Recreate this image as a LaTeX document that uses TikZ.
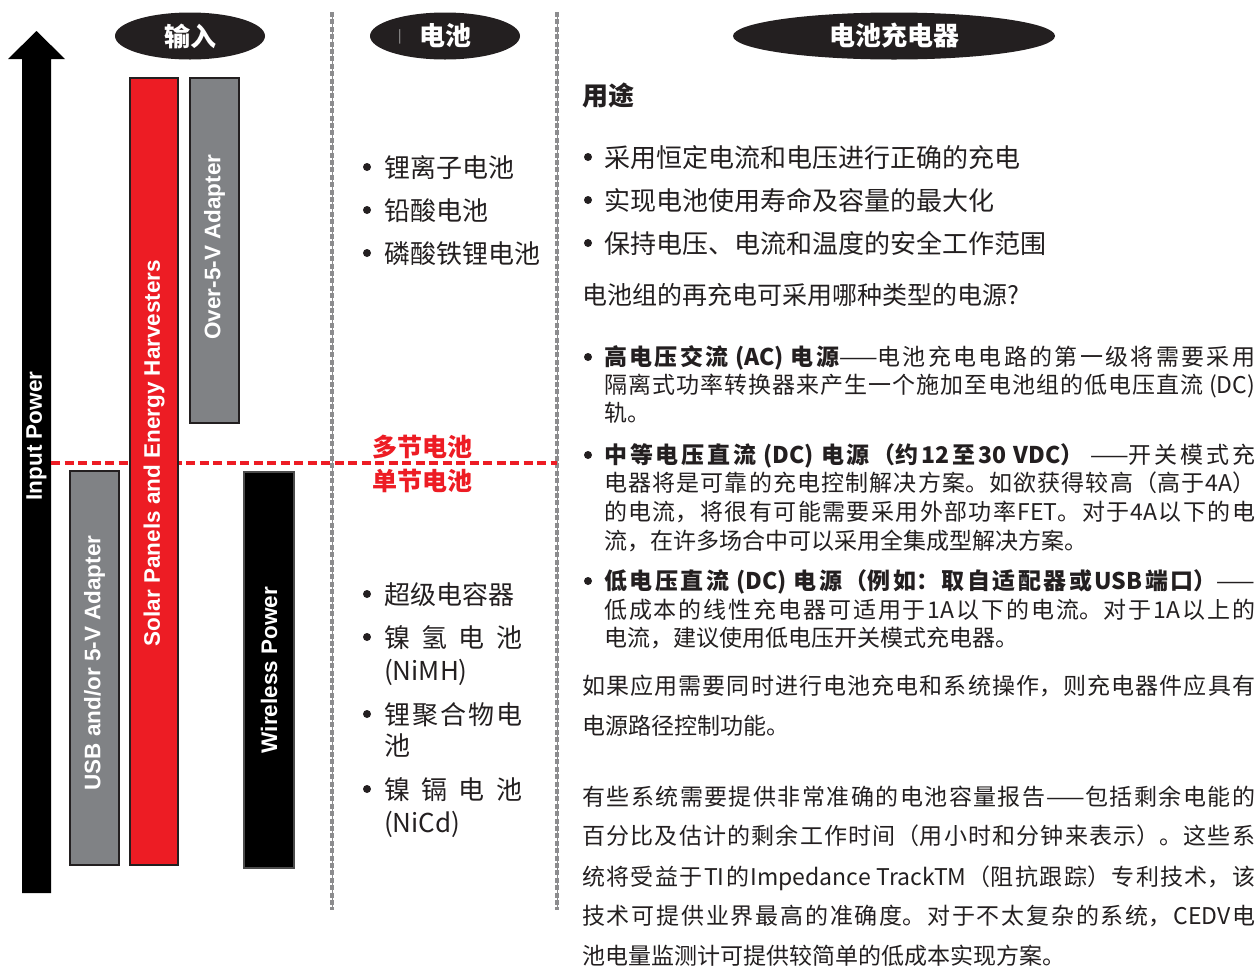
\documentclass[tikz,border=0pt]{standalone}
\usepackage{fontspec}
\setmainfont{Noto Sans CJK SC}
\newfontfamily\barfont{Liberation Sans}
\usetikzlibrary{shapes.geometric}
\XeTeXlinebreaklocale "zh"
\XeTeXlinebreakskip=0pt plus 4pt
\hbadness=10000
\definecolor{cRed}{HTML}{ED1C24}
\definecolor{cGray}{HTML}{808285}
\definecolor{cInk}{HTML}{231F20}
\definecolor{cSep}{HTML}{8C8C8E}
\newcommand{\fitem}{\fontsize{26}{30}\selectfont}
\newcommand{\fbody}{\fontsize{23}{28}\selectfont}
\newcommand{\jline}[2]{\parbox[b]{#1}{\parindent=0pt\parfillskip=0pt\relax #2}}

\begin{document}
\begin{tikzpicture}[x=1pt,y=-1pt,
  head/.style={ellipse,fill=cInk,text=white,inner sep=0pt,minimum height=47pt,
    font=\fontsize{26}{26}\selectfont\bfseries},
  bar/.style={draw=cInk,line width=1.6pt},
  barlbl/.style={rotate=90,text=white,inner sep=0pt,font=\barfont\bfseries\fontsize{22.5}{22.5}\selectfont},
  item/.style={anchor=west,inner sep=0pt,text=cInk,font=\fitem,text height=23pt,text depth=3pt},
  body/.style={anchor=west,inner sep=0pt,text=cInk,font=\fbody,text height=20pt,text depth=3pt},
  redlbl/.style={text=cRed,inner sep=0pt,font=\fontsize{25}{25}\selectfont\bfseries},
  sep/.style={cSep,line width=0.8pt},
  sepdots/.style={cSep,line width=4.4pt,dash pattern=on 5pt off 2.4pt},
  level/.style={cRed,line width=3.6pt,dash pattern=on 9pt off 4.5pt},
  dot/.style={fill=cInk}]

\useasboundingbox (0,0) rectangle (1258,970);

%============================ column separators ============================
\coordinate (s1t) at (332,12); \coordinate (s1b) at (332,910);
\coordinate (s2t) at (557,12); \coordinate (s2b) at (557,910);
\foreach \a/\b in {s1t/s1b,s2t/s2b}{
  \draw[sep] (\a)--(\b);
  \draw[sepdots] (\a)--(\b);
}

% headers
\node[head,minimum width=150pt] (hIn)  at (190,36) {输入};
\node[head,minimum width=150pt] (hBat) at (445,36) {电池};
\node[text=gray!60,inner sep=0pt,font=\fontsize{13}{13}\selectfont] (cur) at (400,37) {|};
\node[head,minimum width=322pt] (hChg) at (894,36) {电池充电器};

%============================ INPUT column ============================
% input power arrow
\fill[black] (22,893)--(22,59)--(8,59)--(36.5,31)--(65,59)--(51,59)--(51,893)--cycle;
\node[barlbl] (lIn) at (36.5,436) {Input Power};

% single / multi cell level
\coordinate (lvA) at (51,463); \coordinate (lvB) at (557,463);
\draw[level] (lvA)--(lvB);

\draw[bar,fill=cGray] (70,471) rectangle (119,865);
\draw[bar,fill=cRed]  (130,78) rectangle (178,865);
\draw[bar,fill=cGray] (190,78) rectangle (239,423);
\draw[bar,draw=gray!60!black,fill=black] (244,472) rectangle (294,868);

\node[barlbl] (lUsb)  at (94.5,663) {USB and/or 5-V Adapter};
\node[barlbl] (lSol)  at (154,453)  {Solar Panels and Energy Harvesters};
\node[barlbl] (lOver) at (214.5,247) {Over-5-V Adapter};
\node[barlbl] (lWl)   at (269,670)  {Wireless Power};

%============================ BATTERY column ============================
\node[redlbl] (multi)  at (422,447) {多节电池};
\node[redlbl] (single) at (422,481) {单节电池};

\foreach \t/\y [count=\i] in {锂离子电池/167,铅酸电池/210,磷酸铁锂电池/253}{
  \fill[dot] (367,\y) circle (4);
  \node[item] (mc\i) at (384,\y) {\t};
}
\foreach \y in {594,637,714,789}
  \fill[dot] (367,\y) circle (4);
\node[item] (sc1)  at (384,594) {超级电容器};
\node[item] (sc2)  at (384,637) {\makebox[138pt][s]{镍\hfill 氢\hfill 电\hfill 池}};
\node[item] (sc2b) at (384,670) {(NiMH)};
\node[item] (sc3)  at (384,714) {\makebox[138pt][s]{锂\hfill 聚\hfill 合\hfill 物\hfill 电}};
\node[item] (sc3b) at (384,745) {池};
\node[item] (sc4)  at (384,789) {\makebox[138pt][s]{镍\hfill 镉\hfill 电\hfill 池}};
\node[item] (sc4b) at (384,822) {(NiCd)};

%============================ CHARGER column ============================
\node[item,font=\fitem\bfseries] (use) at (582,95) {用途};
\foreach \t/\y [count=\i] in {采用恒定电流和电压进行正确的充电/157,
    实现电池使用寿命及容量的最大化/200,保持电压、电流和温度的安全工作范围/243}{
  \fill[dot] (588,\y) circle (4);
  \node[item] (use\i) at (604,\y) {\t};
}
\node[item,font=\fontsize{25}{30}\selectfont] (ask) at (582,294) {电池组的再充电可采用哪种类型的电源?};

% power sources
\foreach \y in {357,455,581}
  \fill[dot] (588,\y) circle (4);
\node[body] (ac1) at (604,357) {\jline{651pt}{\textbf{高电压交流 (AC) 电源}——电池充电电路的第一级将需要采用}};
\node[body] (ac2) at (604,385) {\jline{651pt}{隔离式功率转换器来产生一个施加至电池组的低电压直流 (DC)}};
\node[body] (ac3) at (604,413) {轨。};
\node[body] (md1) at (604,455) {\jline{651pt}{\textbf{中等电压直流 (DC) 电源（约12至30 VDC）} ——开关模式充}};
\node[body] (md2) at (604,483) {\jline{651pt}{电器将是可靠的充电控制解决方案。如欲获得较高（高于4A）}};
\node[body] (md3) at (604,512) {\jline{651pt}{的电流，将很有可能需要采用外部功率FET。对于4A以下的电}};
\node[body] (md4) at (604,541) {流，在许多场合中可以采用全集成型解决方案。};
\node[body] (lo1) at (604,581) {\jline{651pt}{\textbf{低电压直流 (DC) 电源（例如：取自适配器或USB端口）}——}};
\node[body] (lo2) at (604,610) {\jline{651pt}{低成本的线性充电器可适用于1A以下的电流。对于1A以上的}};
\node[body] (lo3) at (604,638) {电流，建议使用低电压开关模式充电器。};

% power path / gauging
\node[body] (pp1) at (582,686) {\jline{673pt}{如果应用需要同时进行电池充电和系统操作，则充电器件应具有}};
\node[body] (pp2) at (582,726) {电源路径控制功能。};
\node[body] (gg1) at (582,797) {\jline{673pt}{有些系统需要提供非常准确的电池容量报告——包括剩余电能的}};
\node[body] (gg2) at (582,836) {\jline{673pt}{百分比及估计的剩余工作时间（用小时和分钟来表示）。这些系}};
\node[body] (gg3) at (582,877) {\jline{673pt}{统将受益于TI的Impedance TrackTM（阻抗跟踪）专利技术，该}};
\node[body] (gg4) at (582,916) {\jline{673pt}{技术可提供业界最高的准确度。对于不太复杂的系统，CEDV电}};
\node[body] (gg5) at (582,956) {池电量监测计可提供较简单的低成本实现方案。};

\end{tikzpicture}
\end{document}
